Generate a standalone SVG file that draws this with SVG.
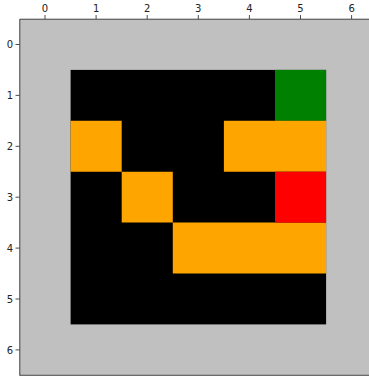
<svg xmlns="http://www.w3.org/2000/svg" width="369" height="377" viewBox="0 0 369 377">
<style>
.k{fill:#000}.o{fill:#ffa500}.g{fill:#008000}.r{fill:#ff0000}
.t{font-family:"DejaVu Sans",sans-serif;font-size:10px;fill:#222}
.tk{stroke:#222;stroke-width:0.8}
</style>
<rect width="369" height="377" fill="#fff"/>
<g id="grid">
<rect x="19.5" y="19" width="357.7" height="356.3" fill="#c0c0c0"/>
<rect class="k" x="70.6" y="69.9" width="255.5" height="254.5"/>
<rect class="g" x="275" y="69.9" width="51.1" height="50.9"/>
<path class="o" d="M70.6 120.8h51.1v50.9h-51.1z M223.9 120.8h102.2v50.9h-102.2z M121.7 171.7h51.1v50.9h-51.1z M172.8 222.6h153.3v50.9h-153.3z"/>
<rect class="r" x="275" y="171.7" width="51.1" height="50.9"/>
</g>
<g id="axes">
<path d="M19.8 375.3V19.2H369M19.5 375.3H369" fill="none" stroke="#222" stroke-width="0.8"/>
<path class="tk" d="M45 19v-4M96.1 19v-4M147.2 19v-4M198.3 19v-4M249.4 19v-4M300.5 19v-4M351.6 19v-4"/>
<path class="tk" d="M19.5 44.5h-4M19.5 95.4h-4M19.5 146.3h-4M19.5 197.2h-4M19.5 248.1h-4M19.5 299h-4M19.5 349.9h-4"/>
<g class="t" text-anchor="middle">
<text x="45" y="12">0</text><text x="96.1" y="12">1</text><text x="147.2" y="12">2</text><text x="198.3" y="12">3</text><text x="249.4" y="12">4</text><text x="300.5" y="12">5</text><text x="351.6" y="12">6</text>
</g>
<g class="t" text-anchor="end">
<text x="13" y="48">0</text><text x="13" y="99">1</text><text x="13" y="150">2</text><text x="13" y="201">3</text><text x="13" y="252">4</text><text x="13" y="302.5">5</text><text x="13" y="353.5">6</text>
</g>
</g>
</svg>
